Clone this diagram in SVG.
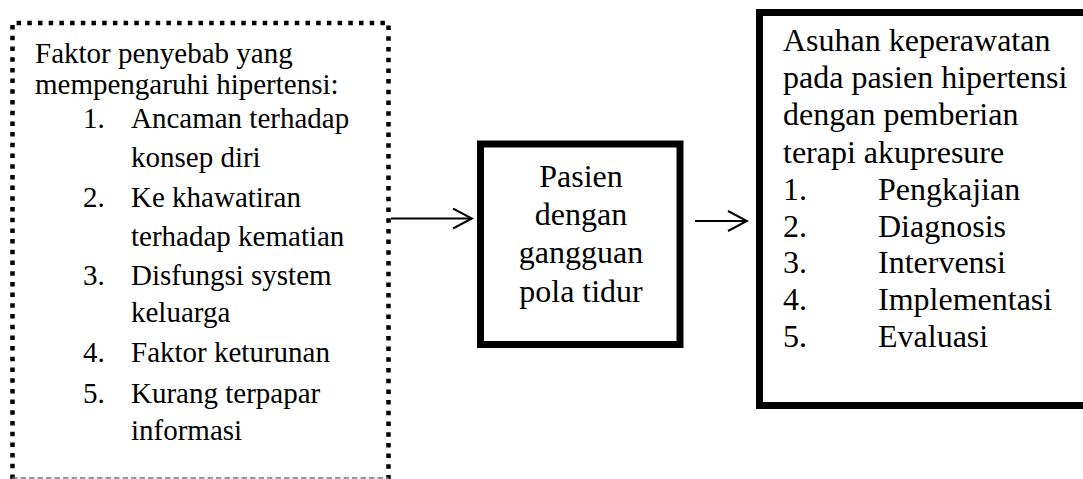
<svg xmlns="http://www.w3.org/2000/svg" width="1083" height="479" viewBox="0 0 1083 479">
<style>
text { font-family: "Liberation Serif", "Times New Roman", serif; fill: #000; }
.l { font-size: 29px; }
.m { font-size: 32px; text-anchor: middle; }
.r { font-size: 32px; }
.dot { fill: none; stroke: #000; stroke-width: 4.5; stroke-dasharray: 4.5 6.2; }
.thick { fill: #fff; stroke: #000; stroke-width: 7; }
.conn { fill: none; stroke: #000; stroke-width: 2; }
</style>
<defs>
<marker id="arr" markerWidth="22" markerHeight="24" refX="20" refY="11" orient="auto" markerUnits="userSpaceOnUse">
<path d="M1,1 L20,11 L1,21" fill="none" stroke="#000" stroke-width="2"/>
</marker>
</defs>
<rect width="1083" height="479" fill="#fff"/>
<g id="node-faktor">
<path class="dot" d="M12.5,479 L12.5,23 L388.5,23 L388.5,479"/>
<line x1="12" y1="478" x2="389" y2="478" stroke="#777" stroke-width="1.5" stroke-dasharray="5.5 3"/>
<text class="l" x="35" y="62.5">Faktor penyebab yang</text>
<text class="l" x="35" y="94">mempengaruhi hipertensi:</text>
<text class="l" x="83" y="128">1.</text><text class="l" x="131" y="128">Ancaman terhadap</text>
<text class="l" x="131" y="167">konsep diri</text>
<text class="l" x="83" y="207">2.</text><text class="l" x="131" y="207">Ke khawatiran</text>
<text class="l" x="131" y="246">terhadap kematian</text>
<text class="l" x="83" y="285">3.</text><text class="l" x="131" y="285">Disfungsi system</text>
<text class="l" x="131" y="322">keluarga</text>
<text class="l" x="83" y="362">4.</text><text class="l" x="131" y="362">Faktor keturunan</text>
<text class="l" x="83" y="403">5.</text><text class="l" x="131" y="403">Kurang terpapar</text>
<text class="l" x="131" y="440">informasi</text>
</g>
<g id="node-pasien">
<rect class="thick" x="480.5" y="144" width="199.5" height="200.5"/>
<text class="m" x="581" y="187">Pasien</text>
<text class="m" x="581" y="225">dengan</text>
<text class="m" x="581" y="263">gangguan</text>
<text class="m" x="581" y="302">pola tidur</text>
</g>
<g id="node-asuhan">
<rect class="thick" x="759.5" y="12.5" width="340" height="393"/>
<text class="r" x="783" y="50.5">Asuhan keperawatan</text>
<text class="r" x="783" y="88">pada pasien hipertensi</text>
<text class="r" x="783" y="125">dengan pemberian</text>
<text class="r" x="783" y="163">terapi akupresure</text>
<text class="r" x="783" y="200">1.</text><text class="r" x="878" y="200">Pengkajian</text>
<text class="r" x="783" y="237">2.</text><text class="r" x="878" y="237">Diagnosis</text>
<text class="r" x="783" y="273">3.</text><text class="r" x="878" y="273">Intervensi</text>
<text class="r" x="783" y="310">4.</text><text class="r" x="878" y="310">Implementasi</text>
<text class="r" x="783" y="347">5.</text><text class="r" x="878" y="347">Evaluasi</text>
</g>
<g id="connectors">
<line class="conn" x1="391" y1="218.5" x2="472" y2="218.5" marker-end="url(#arr)"/>
<line class="conn" x1="695" y1="221" x2="747" y2="221" marker-end="url(#arr)"/>
</g>
</svg>
